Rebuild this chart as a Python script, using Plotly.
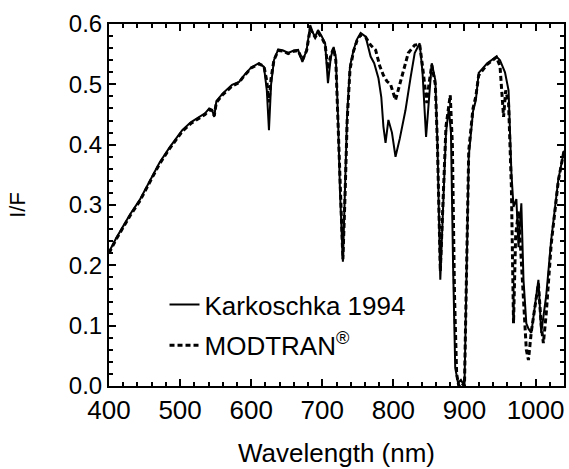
import plotly.graph_objects as go

# Wavelength (nm) and I/F values
wl_karkoschka = [400, 410, 420, 430, 443, 455, 471, 485, 503, 515, 527, 535, 541, 545, 548, 551,
                 560, 573, 583, 590, 600, 611, 618, 622, 625, 628, 632, 638, 645, 652, 660, 666,
                 672, 678, 683, 687, 690, 694, 699, 704, 708, 712, 716, 719, 722, 725, 729, 732,
                 735, 739, 744, 749, 754, 761, 768, 773, 779, 783, 786, 789, 793, 798, 803, 809,
                 817, 824, 830, 837, 841, 846, 850, 854, 859, 862, 866, 870, 874, 878, 881, 884,
                 887, 891, 895, 900, 906, 912, 916, 920, 932, 945, 950, 957, 962, 966,
                 969, 973, 976, 980, 983, 987, 990, 994, 1004, 1008, 1015, 1022, 1032, 1040]
if_karkoschka = [0.222, 0.245, 0.265, 0.285, 0.308, 0.335, 0.370, 0.395, 0.424, 0.437, 0.446, 0.452, 0.460, 0.458, 0.446, 0.472,
                 0.485, 0.499, 0.504, 0.515, 0.528, 0.535, 0.529, 0.490, 0.424, 0.500, 0.540, 0.558, 0.556, 0.552, 0.556, 0.557,
                 0.537, 0.557, 0.598, 0.585, 0.579, 0.590, 0.580, 0.568, 0.502, 0.545, 0.562, 0.545, 0.450, 0.320, 0.206, 0.320,
                 0.450, 0.530, 0.557, 0.575, 0.585, 0.579, 0.546, 0.535, 0.510, 0.479, 0.430, 0.403, 0.441, 0.420, 0.380, 0.410,
                 0.457, 0.510, 0.552, 0.568, 0.520, 0.413, 0.480, 0.535, 0.507, 0.400, 0.176, 0.300, 0.420, 0.460, 0.420, 0.200,
                 0.030, 0.005, 0.010, 0.000, 0.380, 0.455, 0.474, 0.519, 0.535, 0.546, 0.540, 0.520, 0.490, 0.353,
                 0.297, 0.310, 0.230, 0.303, 0.176, 0.104, 0.095, 0.088, 0.176, 0.088, 0.150, 0.242, 0.342, 0.390]

wl_modtran = [400, 410, 420, 430, 443, 455, 471, 485, 503, 515, 527, 535, 541, 545, 548, 551,
              560, 573, 583, 590, 600, 611, 618, 622, 625, 628, 632, 638, 645, 652, 660, 666,
              672, 678, 683, 687, 690, 694, 699, 704, 708, 712, 716, 719, 722, 725, 729, 732,
              735, 739, 744, 749, 754, 761, 768, 775, 781, 786, 791, 796, 803, 809, 816, 821,
              830, 837, 841, 847, 850, 854, 859, 862, 866, 870, 874, 880, 883, 886,
              889, 892, 896, 900, 906, 912, 916, 920, 932, 945, 950, 955, 958, 962, 966,
              969, 972, 976, 980, 984, 987, 990, 994, 1004, 1008, 1011, 1015, 1022, 1032, 1040]
if_modtran = [0.220, 0.243, 0.263, 0.283, 0.306, 0.333, 0.368, 0.393, 0.422, 0.435, 0.444, 0.450, 0.458, 0.456, 0.448, 0.470,
              0.483, 0.497, 0.503, 0.514, 0.527, 0.534, 0.530, 0.505, 0.470, 0.510, 0.540, 0.556, 0.555, 0.551, 0.555, 0.556,
              0.540, 0.556, 0.592, 0.583, 0.578, 0.586, 0.578, 0.566, 0.525, 0.548, 0.560, 0.540, 0.440, 0.310, 0.210, 0.315,
              0.440, 0.525, 0.555, 0.573, 0.582, 0.578, 0.565, 0.557, 0.530, 0.515, 0.505, 0.500, 0.474, 0.500, 0.530, 0.552,
              0.565, 0.566, 0.530, 0.469, 0.500, 0.532, 0.500, 0.400, 0.190, 0.310, 0.430, 0.482, 0.400, 0.150,
              0.020, 0.000, 0.005, 0.000, 0.390, 0.460, 0.480, 0.515, 0.533, 0.545, 0.530, 0.446, 0.490, 0.470, 0.330,
              0.104, 0.250, 0.290, 0.200, 0.104, 0.060, 0.043, 0.090, 0.170, 0.100, 0.071, 0.120, 0.235, 0.340, 0.390]

trace_names = ["Karkoschka 1994", "MODTRAN<sup>®</sup>"]
x_title = "Wavelength (nm)"
y_title = "I/F"
x_ticks = [400, 500, 600, 700, 800, 900, 1000]
y_ticks = [0.0, 0.1, 0.2, 0.3, 0.4, 0.5, 0.6]

FONT = "Liberation Sans, Arial, sans-serif"

fig = go.Figure()
fig.add_trace(go.Scatter(x=wl_karkoschka, y=if_karkoschka, mode="lines", name=trace_names[0],
                         line=dict(color="black", width=2), legendgroup="a"))
fig.add_trace(go.Scatter(x=wl_modtran, y=if_modtran, mode="lines", name=trace_names[1],
                         line=dict(color="black", width=3, dash="5px,3px"), legendgroup="b"))

axis_common = dict(showline=True, linecolor="black", linewidth=2, mirror="allticks",
                   ticks="inside", ticklen=7, tickwidth=1.5, tickcolor="black",
                   showgrid=False, zeroline=False)

fig.update_xaxes(range=[400, 1040], tickvals=x_ticks, ticktext=[str(v) for v in x_ticks],
                 tickfont=dict(family=FONT, size=26, color="black"),
                 title=dict(text=x_title, font=dict(family=FONT, size=26, color="black"), standoff=20),
                 minor=dict(dtick=20, tick0=400, ticks="inside", ticklen=4, tickcolor="black", showgrid=False),
                 **axis_common)
fig.update_yaxes(range=[0, 0.6], tickvals=y_ticks, ticktext=["%.1f" % v for v in y_ticks],
                 tickfont=dict(family=FONT, size=24, color="black"),
                 title=dict(text=y_title, font=dict(family=FONT, size=22, color="black"), standoff=37),
                 minor=dict(dtick=0.02, tick0=0, ticks="inside", ticklen=4, tickcolor="black", showgrid=False),
                 **axis_common)

fig.update_layout(
    width=569, height=469,
    margin=dict(l=109, r=3, t=24, b=83),
    plot_bgcolor="white", paper_bgcolor="white",
    showlegend=True,
    legend=dict(x=0.122, y=0.29, xanchor="left", yanchor="top", bgcolor="rgba(0,0,0,0)",
                font=dict(family=FONT, size=26, color="black"), tracegroupgap=4,
                itemwidth=30),
)

fig.write_html("out.html")
